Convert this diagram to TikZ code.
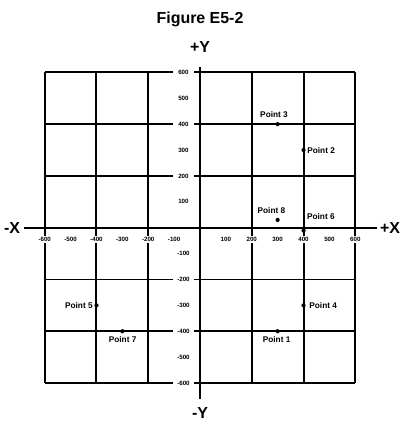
\documentclass[tikz,border=0pt]{standalone}
\usepackage{fontspec}
\setmainfont{Liberation Sans}
\begin{document}
\begin{tikzpicture}[x=0.2588bp,y=0.2588bp,
  thickline/.style={line width=2bp},
  thinline/.style={line width=1.1bp},
  ytick/.style={fill=white,inner sep=0pt,minimum width=21bp,minimum height=7bp,font=\fontsize{6.2}{7}\selectfont\bfseries},
  xtick/.style={fill=white,inner xsep=0.4bp,inner ysep=1.4bp,font=\fontsize{6.2}{7}\selectfont\bfseries},
  ptlabel/.style={inner sep=0pt,font=\fontsize{8.3}{9}\selectfont\bfseries},
  axlabel/.style={inner sep=0pt,font=\fontsize{16}{18}\selectfont\bfseries},
  dot/.style={fill=black}]
\useasboundingbox (-772.8,-758.5) rectangle (838.5,879.8);
\fill[white] (-772.8,-758.5) rectangle (838.5,879.8);
% title
\node[axlabel] (title) at (0,806) {Figure E5-2};
% grid
\foreach \v in {-600,-400,-200,200,400,600}
  \draw[thickline] (\v,-600) -- (\v,600);
\foreach \h in {-600,-400,200,400,600}
  \draw[thickline] (-600,\h) -- (600,\h);
\draw[thinline] (-600,-200) -- (600,-200);
% axes
\coordinate (ytop) at (0,621);
\coordinate (ybot) at (0,-662);
\coordinate (xleft) at (-680,0);
\coordinate (xright) at (684,0);
\draw[thickline] (ybot) -- (ytop);
\draw[thickline] (xleft) -- (xright);
\node[axlabel] (py) at (0,698) {+Y};
\node[axlabel] (my) at (0,-716) {-Y};
\node[axlabel] (mx) at (-726,0) {-X};
\node[axlabel] (px) at (734,0) {+X};
% y tick labels
\foreach \v/\n in {600/y600,500/y500,400/y400,300/y300,200/y200,100/y100,-100/ym100,-200/ym200,-300/ym300,-400/ym400,-500/ym500,-600/ym600}
  \node[ytick] (\n) at (-64,\v) {\v};
% x tick labels
\foreach \v/\n in {-600/xm600,-500/xm500,-400/xm400,-300/xm300,-200/xm200,-100/xm100,100/x100,200/x200,300/x300,400/x400,500/x500,600/x600}
  \node[xtick] (\n) at (\v,-47) {\v};
% points
\coordinate (p1) at (300,-400);
\coordinate (p2) at (400,300);
\coordinate (p3) at (300,400);
\coordinate (p4) at (400,-300);
\coordinate (p5) at (-400,-300);
\coordinate (p6) at (400,-11);
\coordinate (p7) at (-300,-400);
\coordinate (p8) at (300,30);
\foreach \p in {p1,p2,p3,p4,p5,p6,p7,p8}
  \fill[dot] (\p) circle[radius=2.1bp];
\node[ptlabel] (l3) at (286,436) {Point 3};
\node[ptlabel,anchor=west] (l2) at (414,300) {Point 2};
\node[ptlabel] (l8) at (276,66) {Point 8};
\node[ptlabel,anchor=west] (l6) at (413,43) {Point 6};
\node[ptlabel,anchor=west] (l4) at (422,-300) {Point 4};
\node[ptlabel] (l1) at (296,-434) {Point 1};
\node[ptlabel,anchor=east] (l5) at (-414,-300) {Point 5};
\node[ptlabel] (l7) at (-299,-434) {Point 7};
\end{tikzpicture}
\end{document}
